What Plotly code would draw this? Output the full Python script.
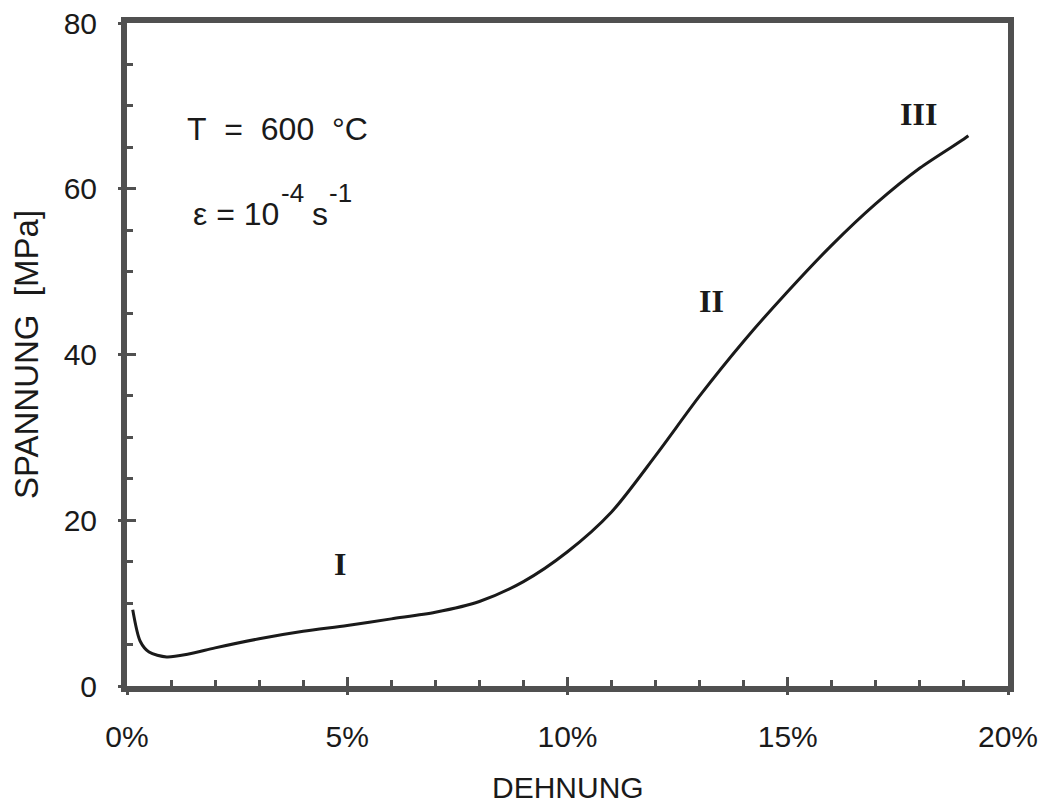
import plotly.graph_objects as go

# Data
strain_pct = [0.13, 0.3, 0.5, 0.9, 1.4, 2.0, 3.0, 4.0, 5.0, 6.0, 7.0, 8.0, 9.0, 10.0,
              11.0, 12.0, 13.0, 14.0, 15.0, 16.0, 17.0, 18.0, 19.0, 19.1]
stress_mpa = [9.2, 5.4, 4.1, 3.5, 3.85, 4.6, 5.7, 6.6, 7.3, 8.1, 8.9, 10.2, 12.6, 16.2,
              21.0, 27.8, 35.0, 41.6, 47.6, 53.2, 58.2, 62.5, 66.0, 66.4]

x_ticks = [0, 5, 10, 15, 20]
x_ticklabels = ["0%", "5%", "10%", "15%", "20%"]
y_ticks = [0, 20, 40, 60, 80]

stage_labels = ["I", "II", "III"]
stage_x = [4.84, 13.28, 17.96]
stage_y = [14.7, 46.4, 69.0]

SANS = "Liberation Sans, Arial, sans-serif"
SERIF = "Liberation Serif, Times New Roman, serif"
INK = "#1a1a1a"
FRAME = "#505050"
NB = "\u00a0"

fig = go.Figure()
fig.add_trace(go.Scatter(x=strain_pct, y=stress_mpa, mode="lines",
                         line=dict(color=INK, width=3, shape="spline", smoothing=0.8),
                         hoverinfo="skip", showlegend=False))
# invisible copy for overlay axes (outer half of the major ticks)
fig.add_trace(go.Scatter(x=strain_pct, y=stress_mpa, mode="lines", xaxis="x2", yaxis="y2",
                         line=dict(color="rgba(0,0,0,0)", width=0),
                         hoverinfo="skip", showlegend=False))

common = dict(showgrid=False, zeroline=False, automargin=False)
fig.update_layout(
    width=1038, height=800,
    margin=dict(l=119, r=38, t=15, b=122),
    paper_bgcolor="white", plot_bgcolor="white",
    xaxis=dict(range=[0, 20], tickvals=x_ticks, ticktext=x_ticklabels,
               ticks="inside", ticklen=9, tickwidth=3, tickcolor=FRAME,
               minor=dict(ticks="inside", dtick=1, ticklen=6, tickwidth=3, tickcolor=FRAME),
               showline=True, linewidth=6, linecolor=FRAME, mirror=True,
               tickfont=dict(family=SANS, size=30, color=INK), ticklabelstandoff=19,
               ticklabeloverflow="allow",
               **common),
    yaxis=dict(range=[0, 80], tickvals=y_ticks,
               ticks="inside", ticklen=9, tickwidth=3, tickcolor=FRAME,
               minor=dict(ticks="inside", dtick=5, ticklen=6, tickwidth=3, tickcolor=FRAME),
               showline=True, linewidth=6, linecolor=FRAME, mirror=True,
               tickfont=dict(family=SANS, size=30, color=INK), ticklabelstandoff=18,
               ticklabeloverflow="allow",
               title=dict(text="SPANNUNG" + NB * 2 + "[MPa]", font=dict(family=SANS, size=33, color=INK),
                          standoff=22),
               **common),
    xaxis2=dict(overlaying="x", matches="x", anchor="y", side="bottom",
                tickvals=x_ticks, ticks="outside", ticklen=8, tickwidth=3, tickcolor=FRAME,
                showticklabels=False, showline=False, **common),
    yaxis2=dict(overlaying="y", matches="y", anchor="x", side="left",
                tickvals=y_ticks, ticks="outside", ticklen=8, tickwidth=3, tickcolor=FRAME,
                showticklabels=False, showline=False, **common),
)

# x-axis title
fig.add_annotation(xref="paper", yref="paper", x=0.5, y=-0.153, text="DEHNUNG", showarrow=False,
                   xanchor="center", yanchor="middle", font=dict(family=SANS, size=30, color=INK))

ann_font = dict(family=SANS, size=32, color=INK)
sup_font = dict(family=SANS, size=26, color=INK)
fig.add_annotation(x=1.32, y=67.2, text="T" + NB * 2 + "=" + NB * 2 + "600" + NB * 2 + "°C", showarrow=False,
                   xanchor="left", yanchor="middle", font=ann_font)
fig.add_annotation(x=1.46, y=56.9, text="ε = 10", showarrow=False,
                   xanchor="left", yanchor="middle", font=ann_font)
fig.add_annotation(x=3.45, y=59.5, text="-4", showarrow=False,
                   xanchor="left", yanchor="middle", font=sup_font)
fig.add_annotation(x=4.15, y=56.9, text="s", showarrow=False,
                   xanchor="left", yanchor="middle", font=ann_font)
fig.add_annotation(x=4.55, y=59.5, text="-1", showarrow=False,
                   xanchor="left", yanchor="middle", font=sup_font)

for lab, sx, sy in zip(stage_labels, stage_x, stage_y):
    fig.add_annotation(x=sx, y=sy, text="<b>" + lab + "</b>", showarrow=False,
                       xanchor="center", yanchor="middle",
                       font=dict(family=SERIF, size=32, color=INK))

fig.write_html("out.html")
